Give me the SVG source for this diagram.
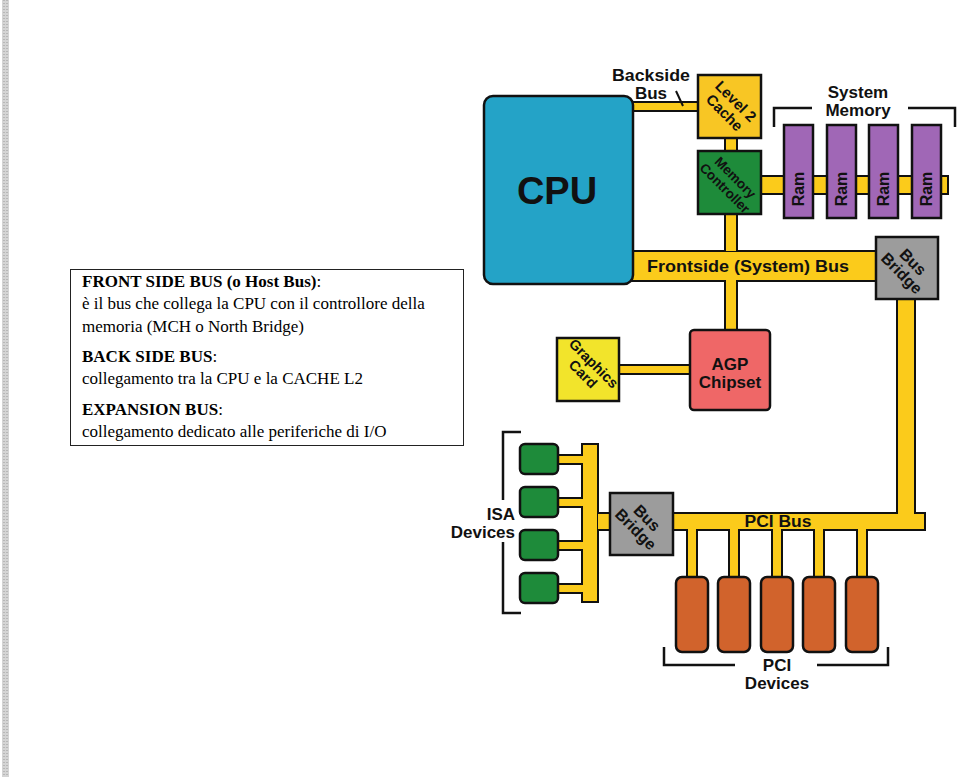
<svg xmlns="http://www.w3.org/2000/svg" xmlns:xlink="http://www.w3.org/1999/xlink" width="960" height="777" viewBox="0 0 960 777">
<style>
.lbl{font-family:"Liberation Sans",Arial,sans-serif;font-weight:700;fill:#111;}
.node{stroke:#111;stroke-width:2.5;}
.note{font-family:"Liberation Serif","Times New Roman",serif;font-size:17px;fill:#000;}
.b{font-weight:700;}
.bracket{fill:none;stroke:#111;stroke-width:2.5;}
.bus-outline{fill:#111;stroke:#111;stroke-width:4;stroke-linejoin:miter;}
.bus-fill{fill:#FBCB1B;stroke:none;}
</style>
<defs>
<g id="busShapes">
<rect x="633" y="103" width="66" height="7"/>
<rect x="726" y="137" width="10" height="14"/>
<rect x="726" y="213" width="10" height="38"/>
<rect x="633" y="252" width="244" height="28"/>
<rect x="726" y="279" width="10" height="51"/>
<rect x="761" y="177" width="186" height="16"/>
<rect x="619" y="366" width="72" height="7"/>
<rect x="898" y="299" width="16" height="215"/>
<rect x="598" y="514" width="326" height="15"/>
<rect x="583" y="445" width="14" height="156"/>
<rect x="557" y="456" width="27" height="7"/>
<rect x="557" y="499" width="27" height="7"/>
<rect x="557" y="542" width="27" height="7"/>
<rect x="557" y="585" width="27" height="7"/>
<rect x="688" y="528" width="8" height="50"/>
<rect x="730" y="528" width="8" height="50"/>
<rect x="773" y="528" width="8" height="50"/>
<rect x="815" y="528" width="8" height="50"/>
<rect x="858" y="528" width="8" height="50"/>
</g>
</defs>
<rect width="960" height="777" fill="#fff"/>
<g id="page-strip">
<rect x="2" y="0" width="7" height="777" fill="#d4d4d4"/>
<line x1="4" y1="0" x2="4" y2="777" stroke="#9a9a9a" stroke-width="1" stroke-dasharray="1 2"/>
<line x1="7" y1="0" x2="7" y2="777" stroke="#9a9a9a" stroke-width="1" stroke-dasharray="1 2"/>
</g>
<g id="connectors">
<use xlink:href="#busShapes" class="bus-outline"/>
<use xlink:href="#busShapes" class="bus-fill"/>
<text class="lbl" x="748" y="272" font-size="17" text-anchor="middle" textLength="202" lengthAdjust="spacingAndGlyphs">Frontside (System) Bus</text>
<text class="lbl" x="778" y="527" font-size="16" text-anchor="middle" textLength="67" lengthAdjust="spacingAndGlyphs">PCI Bus</text>
</g>
<g id="backside-label">
<text class="lbl" x="651" y="81" font-size="17" text-anchor="middle" textLength="78" lengthAdjust="spacingAndGlyphs">Backside</text>
<text class="lbl" x="651" y="99" font-size="17" text-anchor="middle">Bus</text>
<line x1="676" y1="91" x2="683" y2="106" stroke="#111" stroke-width="2"/>
</g>
<g id="cpu">
<rect class="node" x="484" y="96" width="149" height="188" rx="9" fill="#24A3C7"/>
<text class="lbl" x="557" y="204" font-size="38" text-anchor="middle">CPU</text>
</g>
<g id="l2-cache">
<rect class="node" x="698" y="75" width="63" height="63" fill="#F8C624"/>
<g transform="translate(730,107) rotate(45)">
<text class="lbl" x="0" y="-3" font-size="15" text-anchor="middle">Level 2</text>
<text class="lbl" x="0" y="13" font-size="15" text-anchor="middle">Cache</text>
</g>
</g>
<g id="memory-controller">
<rect class="node" x="698" y="151" width="63" height="63" fill="#1E8B3A"/>
<g transform="translate(730,183) rotate(45)">
<text class="lbl" x="0" y="-3" font-size="13.5" text-anchor="middle">Memory</text>
<text class="lbl" x="0" y="12" font-size="13.5" text-anchor="middle">Controller</text>
</g>
</g>
<g id="system-memory">
<text class="lbl" x="858" y="98" font-size="17" text-anchor="middle">System</text>
<text class="lbl" x="858" y="116" font-size="17" text-anchor="middle">Memory</text>
<path class="bracket" d="M774 127 V108 H812 M908 108 H955 V127"/>
</g>
<g id="ram1">
<rect class="node" x="784" y="125" width="29" height="93" fill="#A067B6"/>
<text class="lbl" transform="translate(804,189) rotate(-90)" font-size="16" text-anchor="middle">Ram</text>
</g>
<g id="ram2">
<rect class="node" x="827" y="125" width="29" height="93" fill="#A067B6"/>
<text class="lbl" transform="translate(847,189) rotate(-90)" font-size="16" text-anchor="middle">Ram</text>
</g>
<g id="ram3">
<rect class="node" x="869" y="125" width="29" height="93" fill="#A067B6"/>
<text class="lbl" transform="translate(889,189) rotate(-90)" font-size="16" text-anchor="middle">Ram</text>
</g>
<g id="ram4">
<rect class="node" x="912" y="125" width="29" height="93" fill="#A067B6"/>
<text class="lbl" transform="translate(932,189) rotate(-90)" font-size="16" text-anchor="middle">Ram</text>
</g>
<g id="bus-bridge-top">
<rect class="node" x="876" y="237" width="62" height="62" fill="#9C9C9C"/>
<g transform="translate(907,268) rotate(45)">
<text class="lbl" x="0" y="-3" font-size="16" text-anchor="middle">Bus</text>
<text class="lbl" x="0" y="13" font-size="16" text-anchor="middle">Bridge</text>
</g>
</g>
<g id="graphics-card">
<rect class="node" x="557" y="338" width="62" height="63" fill="#F2E42B"/>
<g transform="translate(588,369) rotate(45)">
<text class="lbl" x="0" y="-3" font-size="14.5" text-anchor="middle">Graphics</text>
<text class="lbl" x="0" y="12" font-size="14.5" text-anchor="middle">Card</text>
</g>
</g>
<g id="agp-chipset">
<rect class="node" x="690" y="330" width="80" height="80" rx="4" fill="#EF6767"/>
<text class="lbl" x="730" y="370" font-size="17" text-anchor="middle">AGP</text>
<text class="lbl" x="730" y="388" font-size="17" text-anchor="middle">Chipset</text>
</g>
<g id="bus-bridge-bottom">
<rect class="node" x="610" y="493" width="63" height="62" fill="#9C9C9C"/>
<g transform="translate(641,524) rotate(45)">
<text class="lbl" x="0" y="-3" font-size="16" text-anchor="middle">Bus</text>
<text class="lbl" x="0" y="13" font-size="16" text-anchor="middle">Bridge</text>
</g>
</g>
<g id="isa-devices">
<rect class="node" x="520" y="444" width="38" height="30" rx="5" fill="#1E8B3A"/>
<rect class="node" x="520" y="487" width="38" height="30" rx="5" fill="#1E8B3A"/>
<rect class="node" x="520" y="530" width="38" height="30" rx="5" fill="#1E8B3A"/>
<rect class="node" x="520" y="573" width="38" height="30" rx="5" fill="#1E8B3A"/>
<path class="bracket" d="M521 432 H503 V500 M503 542 V613 H521"/>
<text class="lbl" x="515" y="520" font-size="17" text-anchor="end">ISA</text>
<text class="lbl" x="515" y="538" font-size="17" text-anchor="end">Devices</text>
</g>
<g id="pci-devices">
<rect class="node" x="676" y="577" width="32" height="75" rx="6" fill="#D1632C"/>
<rect class="node" x="718" y="577" width="32" height="75" rx="6" fill="#D1632C"/>
<rect class="node" x="761" y="577" width="32" height="75" rx="6" fill="#D1632C"/>
<rect class="node" x="803" y="577" width="32" height="75" rx="6" fill="#D1632C"/>
<rect class="node" x="846" y="577" width="32" height="75" rx="6" fill="#D1632C"/>
<path class="bracket" d="M664 647 V665 H735 M817 665 H888 V647"/>
<text class="lbl" x="777" y="671" font-size="17" text-anchor="middle">PCI</text>
<text class="lbl" x="777" y="689" font-size="17" text-anchor="middle">Devices</text>
</g>
<g id="notes">
<rect x="70.5" y="269.5" width="393" height="176" fill="#fff" stroke="#222" stroke-width="1"/>
<text class="note" x="82" y="287"><tspan class="b">FRONT SIDE BUS (o Host Bus)</tspan>:</text>
<text class="note" x="82" y="309">è il bus che collega la CPU con il controllore della</text>
<text class="note" x="82" y="332">memoria (MCH o North Bridge)</text>
<text class="note" x="82" y="362"><tspan class="b">BACK SIDE BUS</tspan>:</text>
<text class="note" x="82" y="384">collegamento tra la CPU e la CACHE L2</text>
<text class="note" x="82" y="415"><tspan class="b">EXPANSION BUS</tspan>:</text>
<text class="note" x="82" y="437">collegamento dedicato alle periferiche di I/O</text>
</g>
</svg>
